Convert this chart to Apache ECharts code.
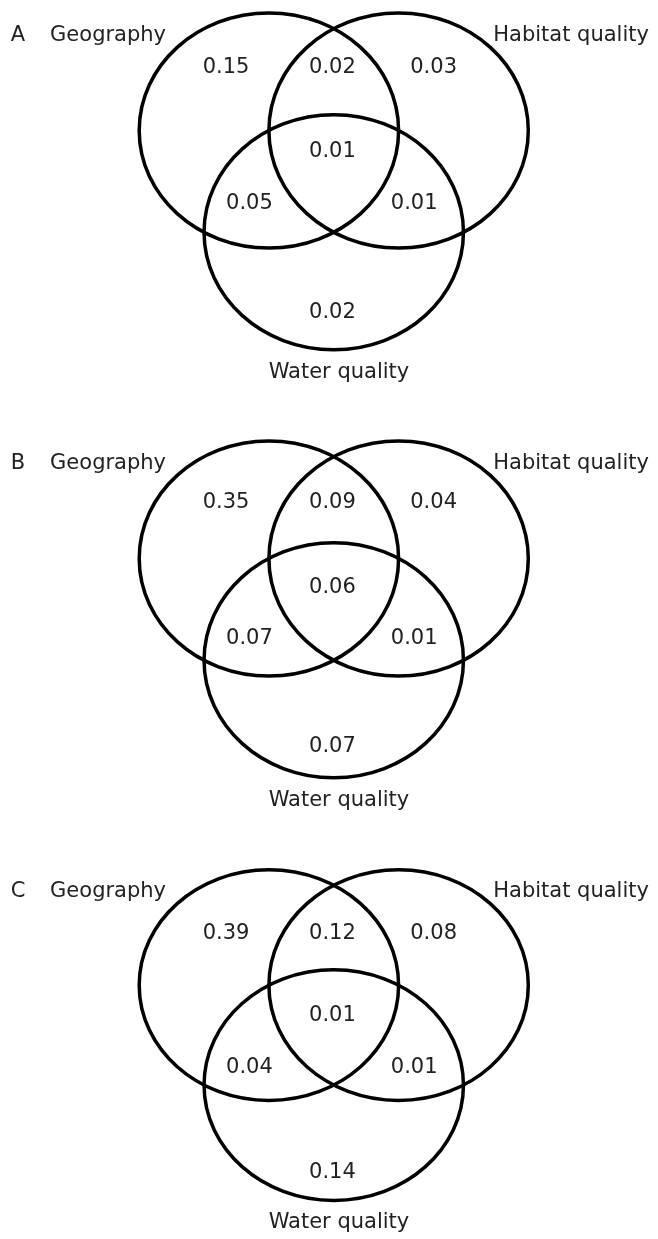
<!DOCTYPE html>
<html>
<head>
<meta charset="utf-8">
<script src="https://cdn.jsdelivr.net/npm/echarts/dist/echarts.min.js"></script>
<style>
  html, body { margin: 0; padding: 0; background: #fff; }
  #venn { width: 658px; height: 1239px; }
</style>
</head>
<body>
<div id="venn"></div>
<script>
const panelLetters = ["A", "B", "C"];
const setNames = ["Geography", "Habitat quality", "Water quality"];
// region order: Geography only, Geography+Habitat, Habitat only, all three,
// Geography+Water, Habitat+Water, Water only
const regionsA = [0.15, 0.02, 0.03, 0.01, 0.05, 0.01, 0.02];
const regionsB = [0.35, 0.09, 0.04, 0.06, 0.07, 0.01, 0.07];
const regionsC = [0.39, 0.12, 0.08, 0.01, 0.04, 0.01, 0.14];
const panelValues = [regionsA, regionsB, regionsC];

// layout in data units (circle radius = 1)
const circleCenters = [[-0.5, 0], [0.5, 0], [0, -0.866]];
const regionX = [-0.83, -0.01, 0.77, -0.01, -0.65, 0.62, -0.01];
const regionRow = [0, 0, 0, 1, 2, 2, 3];
const panelRows = [
  [0.54, -0.18, -0.62, -1.55],
  [0.48, -0.25, -0.68, -1.6],
  [0.45, -0.26, -0.71, -1.62],
];
const nameAnchors = [[-1.74, 0.81], [1.83, 0.81], [0.04, -2.06]];
const letterAnchor = [-2.49, 0.81];
const panelTop = [0, 428, 857];

const textFont = '21px "DejaVu Sans"';
const textColor = "#222";

let chart = echarts.init(document.getElementById("venn"));

let grids = [], xAxes = [], yAxes = [], series = [];
panelLetters.forEach(function (letter, p) {
  grids.push({ left: 9.5, width: 650, top: panelTop[p] + 1.25, height: 387.75 });
  xAxes.push({ type: "value", gridIndex: p, min: -2.5, max: 2.5, show: false });
  yAxes.push({ type: "value", gridIndex: p, min: -2.2, max: 1.1, show: false });

  // circles
  series.push({
    type: "custom",
    xAxisIndex: p,
    yAxisIndex: p,
    silent: true,
    data: circleCenters.map(function (c) { return [c[0], c[1], 1]; }),
    renderItem: function (params, api) {
      let c = api.coord([api.value(0), api.value(1)]);
      let s = api.size([api.value(2), api.value(2)]);
      return {
        type: "ellipse",
        shape: { cx: c[0], cy: c[1], rx: s[0], ry: s[1] },
        style: { fill: "none", stroke: "#000", lineWidth: 3.5 },
      };
    },
  });

  // region values
  series.push({
    type: "custom",
    xAxisIndex: p,
    yAxisIndex: p,
    silent: true,
    data: regionX.map(function (x, i) { return [x, panelRows[p][regionRow[i]]]; }),
    renderItem: function (params, api) {
      let c = api.coord([api.value(0), api.value(1)]);
      return {
        type: "text",
        x: c[0],
        y: c[1],
        style: {
          text: panelValues[p][params.dataIndex].toFixed(2),
          font: textFont,
          fill: textColor,
          align: "center",
          verticalAlign: "middle",
        },
      };
    },
  });

  // set names + panel letter
  let names = setNames.concat([letter]);
  series.push({
    type: "custom",
    xAxisIndex: p,
    yAxisIndex: p,
    silent: true,
    data: nameAnchors.concat([letterAnchor]),
    renderItem: function (params, api) {
      let c = api.coord([api.value(0), api.value(1)]);
      return {
        type: "text",
        x: c[0],
        y: c[1],
        style: {
          text: names[params.dataIndex],
          font: textFont,
          fill: textColor,
          align: params.dataIndex === 3 ? "left" : "center",
          verticalAlign: "middle",
        },
      };
    },
  });
});

chart.setOption({
  animation: false,
  grid: grids,
  xAxis: xAxes,
  yAxis: yAxes,
  series: series,
});
</script>
</body>
</html>
